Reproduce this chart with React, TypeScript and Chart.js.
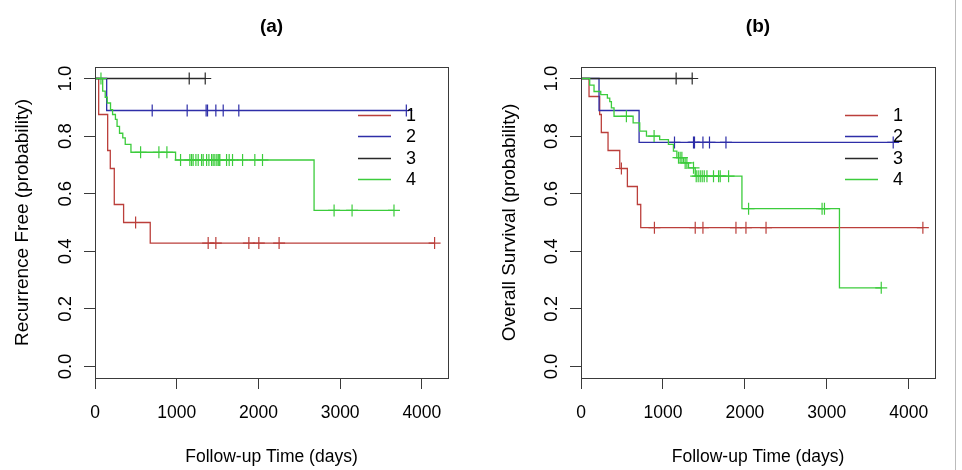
import React, { useEffect, useRef } from 'react';
import { Chart, registerables } from 'chart.js';

Chart.register(...registerables);

const FONT = '"Liberation Sans", Arial, Helvetica, sans-serif';
const GROUP_LABELS = ['1', '2', '3', '4'];
const GROUP_COLORS = ['#bb3f3b', '#2e2ea8', '#2a2a2a', '#3ccc3c'];
const DRAW_ORDER = [4, 3, 2, 1];
const X_TICKS = [0, 1000, 2000, 3000, 4000];
const Y_TICKS = [0, 0.2, 0.4, 0.6, 0.8, 1.0];
const X_MAX = 4320;
const Y_MIN = -0.04;
const Y_MAX = 1.04;
const AXIS_COLOR = '#3a3a3a';

// ---- Panel (a): Recurrence Free ----
const A1_TIMES = [0, 45, 155, 187, 236, 350, 676];
const A1_SURV = [1, 0.875, 0.75, 0.6875, 0.5625, 0.5, 0.4286];
const A1_CENS = [497, 1385, 1479, 1883, 2005, 2253, 4156];

const A2_TIMES = [0, 143];
const A2_SURV = [1, 0.889];
const A2_CENS = [700, 1128, 1360, 1377, 1479, 1569, 1760, 3810];

const A3_TIMES = [0];
const A3_SURV = [1];
const A3_CENS = [1153, 1349];

const A4_TIMES = [0, 94, 125, 150, 190, 215, 250, 270, 300, 340, 370, 440, 986, 2681];
const A4_SURV = [1, 0.956, 0.935, 0.915, 0.892, 0.875, 0.858, 0.834, 0.81, 0.794, 0.771, 0.744, 0.717, 0.542];
const A4_CENS = [73, 558, 782, 880, 1047, 1161, 1182, 1201, 1235, 1263, 1304, 1324, 1366, 1394, 1427, 1446, 1467, 1491, 1508, 1520, 1528, 1610, 1642, 1683, 1806, 1956, 2050, 2926, 3146, 3659];

// ---- Panel (b): Overall Survival ----
const B1_TIMES = [0, 98, 228, 248, 330, 473, 566, 688, 729];
const B1_SURV = [1, 0.9375, 0.875, 0.8125, 0.75, 0.6875, 0.625, 0.5625, 0.482];
const B1_CENS = [493, 896, 1394, 1488, 1891, 2013, 2258, 4172];

const B2_TIMES = [0, 220, 709];
const B2_SURV = [1, 0.889, 0.778];
const B2_CENS = [1141, 1373, 1385, 1488, 1568, 1769, 3810];

const B3_TIMES = [0];
const B3_SURV = [1];
const B3_CENS = [1161, 1357];

const B4_TIMES = [0, 106, 159, 241, 322, 351, 371, 403, 636, 717, 799, 960, 1067, 1128, 1170, 1251, 1312, 1394, 1964, 3154];
const B4_SURV = [1, 0.977, 0.955, 0.944, 0.932, 0.92, 0.898, 0.869, 0.846, 0.817, 0.8, 0.788, 0.771, 0.748, 0.725, 0.707, 0.69, 0.661, 0.548, 0.273];
const B4_CENS = [554, 892, 1190, 1210, 1231, 1271, 1292, 1373, 1406, 1430, 1455, 1479, 1504, 1537, 1617, 1679, 1699, 1801, 2045, 2942, 2971, 3664];

type Group = { times: number[]; surv: number[]; cens: number[] };

const PANELS = [
  {
    title: '(a)',
    yTitle: 'Recurrence Free (probability)',
    groups: [
      { times: A1_TIMES, surv: A1_SURV, cens: A1_CENS },
      { times: A2_TIMES, surv: A2_SURV, cens: A2_CENS },
      { times: A3_TIMES, surv: A3_SURV, cens: A3_CENS },
      { times: A4_TIMES, surv: A4_SURV, cens: A4_CENS },
    ] as Group[],
    left: 0,
    yWidth: 95,
    padRight: 33,
    yTitlePad: 11,
  },
  {
    title: '(b)',
    yTitle: 'Overall Survival (probability)',
    groups: [
      { times: B1_TIMES, surv: B1_SURV, cens: B1_CENS },
      { times: B2_TIMES, surv: B2_SURV, cens: B2_CENS },
      { times: B3_TIMES, surv: B3_SURV, cens: B3_CENS },
      { times: B4_TIMES, surv: B4_SURV, cens: B4_CENS },
    ] as Group[],
    left: 481,
    yWidth: 100,
    padRight: 27,
    yTitlePad: 17.5,
  },
];

function survAt(g: Group, t: number) {
  let s = g.surv[0];
  for (let i = 0; i < g.times.length; i++) if (g.times[i] <= t) s = g.surv[i];
  return s;
}

function buildDatasets(groups: Group[]) {
  const ds: any[] = [];
  groups.forEach((g, i) => {
    const end = Math.max(g.times[g.times.length - 1], ...g.cens);
    const pts = g.times.map((t, k) => ({ x: t, y: g.surv[k] }));
    pts.push({ x: end, y: g.surv[g.surv.length - 1] });
    ds.push({
      label: GROUP_LABELS[i],
      data: pts,
      borderColor: GROUP_COLORS[i],
      backgroundColor: GROUP_COLORS[i],
      borderWidth: 1.3,
      stepped: true,
      pointRadius: 0,
      fill: false,
      order: DRAW_ORDER[i],
    });
    ds.push({
      label: GROUP_LABELS[i] + ' censored',
      data: g.cens.map((c) => ({ x: c, y: survAt(g, c) })),
      showLine: false,
      pointStyle: 'cross',
      pointRadius: 6,
      pointBorderWidth: 1.2,
      borderColor: GROUP_COLORS[i],
      backgroundColor: GROUP_COLORS[i],
      order: DRAW_ORDER[i],
    });
  });
  return ds;
}

const decorPlugin = {
  id: 'decor',
  afterDraw(chart: any) {
    const { ctx, chartArea: a, scales } = chart;
    const y = scales.y;
    ctx.save();
    // box
    ctx.strokeStyle = AXIS_COLOR;
    ctx.lineWidth = 1;
    ctx.strokeRect(Math.round(a.left) + 0.5, Math.round(a.top) + 0.5, Math.round(a.right) - Math.round(a.left), Math.round(a.bottom) - Math.round(a.top));
    // rotated y tick labels
    ctx.fillStyle = '#000';
    ctx.font = `18.5px ${FONT}`;
    ctx.textAlign = 'center';
    ctx.textBaseline = 'middle';
    Y_TICKS.forEach((v) => {
      const py = y.getPixelForValue(v);
      ctx.save();
      ctx.translate(a.left - 29, py);
      ctx.rotate(-Math.PI / 2);
      ctx.fillText(v.toFixed(1), 0, 0);
      ctx.restore();
    });
    // legend
    ctx.font = `18px ${FONT}`;
    GROUP_LABELS.forEach((lab, i) => {
      const ly = Math.round(a.top + 48 + i * 21.3) + 0.5;
      ctx.strokeStyle = GROUP_COLORS[i];
      ctx.lineWidth = 1.3;
      ctx.beginPath();
      ctx.moveTo(a.right - 90, ly);
      ctx.lineTo(a.right - 57, ly);
      ctx.stroke();
      ctx.textAlign = 'left';
      ctx.fillStyle = '#000';
      ctx.fillText(lab, a.right - 42, ly + 1);
    });
    ctx.restore();
  },
};

function Panel({ cfg }: { cfg: (typeof PANELS)[number] }) {
  const ref = useRef<HTMLCanvasElement | null>(null);
  useEffect(() => {
    if (!ref.current) return;
    const chart = new Chart(ref.current, {
      type: 'line',
      data: { datasets: buildDatasets(cfg.groups) },
      options: {
        responsive: false,
        animation: false,
        devicePixelRatio: 1,
        layout: { padding: { left: 0, right: cfg.padRight, top: 0, bottom: 0 } },
        plugins: {
          legend: { display: false },
          tooltip: { enabled: false },
          title: {
            display: true,
            text: cfg.title,
            fullSize: false,
            color: '#000',
            font: { family: FONT, size: 19, weight: 'bold' },
            padding: { top: 15, bottom: 29.2 },
          },
        },
        scales: {
          x: {
            type: 'linear',
            min: 0,
            max: X_MAX,
            afterBuildTicks: (s: any) => {
              s.ticks = X_TICKS.map((v) => ({ value: v }));
            },
            afterFit: (s: any) => {
              s.height = 92;
            },
            grid: { display: true, drawOnChartArea: false, drawTicks: true, tickLength: 11, color: AXIS_COLOR, tickColor: AXIS_COLOR },
            border: { display: true, color: AXIS_COLOR },
            ticks: { color: '#000', font: { family: FONT, size: 17.5 }, padding: 14, maxRotation: 0, callback: (v: any) => String(v) },
            title: { display: true, text: 'Follow-up Time (days)', color: '#000', font: { family: FONT, size: 17.5 }, padding: { top: 0, bottom: 2.5 } },
          },
          y: {
            type: 'linear',
            min: Y_MIN,
            max: Y_MAX,
            afterBuildTicks: (s: any) => {
              s.ticks = Y_TICKS.map((v) => ({ value: v }));
            },
            afterFit: (s: any) => {
              s.width = cfg.yWidth;
            },
            grid: { display: true, drawOnChartArea: false, drawTicks: true, tickLength: 11, color: AXIS_COLOR, tickColor: AXIS_COLOR },
            border: { display: true, color: AXIS_COLOR },
            ticks: { display: false },
            title: { display: true, text: cfg.yTitle, color: '#000', font: { family: FONT, size: 19 }, padding: { top: cfg.yTitlePad, bottom: 0 } },
          },
        },
      } as any,
      plugins: [decorPlugin],
    });
    return () => chart.destroy();
  }, [cfg]);
  return (
    <canvas
      ref={ref}
      width={481}
      height={470}
      style={{ position: 'absolute', left: cfg.left, top: 0, width: 481, height: 470 }}
    />
  );
}

export default function App() {
  return (
    <div style={{ position: 'absolute', left: 0, top: 0, width: 962, height: 470, background: '#fff', overflow: 'hidden' }}>
      {PANELS.map((p) => (
        <Panel key={p.title} cfg={p} />
      ))}
      <div style={{ position: 'absolute', left: 955, top: 0, width: 1, height: 470, background: '#bbb' }} />
    </div>
  );
}
